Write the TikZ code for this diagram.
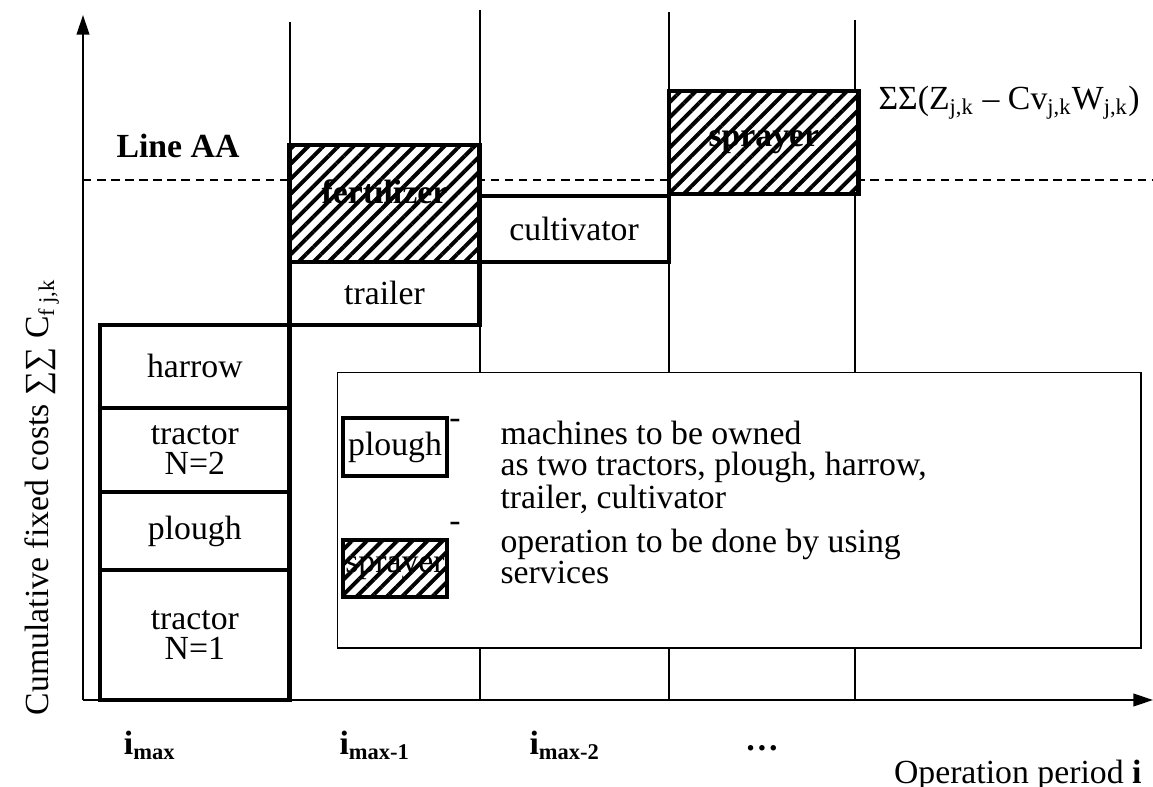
\documentclass[tikz,border=0pt]{standalone}
\usepackage{fontspec}
\setmainfont{Liberation Serif}
\usetikzlibrary{positioning,arrows.meta,patterns.meta}
\newcommand{\figfont}{\fontsize{12}{10.7}\selectfont}

\begin{document}
\begin{tikzpicture}[
  x=0.0125cm, y=-0.0125cm,
  font=\figfont,
  own/.style={draw=black,line width=1.6pt,fill=white,align=center,inner sep=0pt,outer sep=0pt,minimum width=2.37cm},
  hired/.style={draw=black,line width=1.6pt,align=center,inner sep=0pt,outer sep=0pt,minimum width=2.37cm,
    preaction={fill=white},pattern={Lines[angle=45,distance=3.8pt,line width=1.4pt]},font=\figfont\bfseries},
  period/.style={line width=0.5pt},
  axis/.style={line width=0.7pt,-{Triangle[length=7pt,width=4.5pt]}},
  level/.style={line width=0.5pt,dash pattern=on 3pt off 2pt},
  legend/.style={draw=black,line width=0.5pt,fill=white,inner sep=0pt},
  lab/.style={font=\figfont\bfseries,inner sep=0pt},
]
\useasboundingbox (0,0) rectangle (1153,787);
% operation periods
\foreach \px/\ptop in {290/22,480/10,669/12,855/20}
  \draw[period] (\px,\ptop) -- (\px,700);
% line AA
\coordinate (aaL) at (83,180);
\coordinate (aaR) at (1153,180);
\draw[level] (aaL) -- (aaR);
\node[lab] (lineAA) at (178,146) {Line AA};
% period i_max
\node[own,minimum height=1.625cm,anchor=south west] (trac1) at (100,700) {tractor\\N=1};
\node[own,minimum height=0.975cm,above=0pt of trac1] (plough) {plough};
\node[own,minimum height=1.05cm,above=0pt of plough] (trac2) {tractor\\N=2};
\node[own,minimum height=1.0375cm,above=0pt of trac2] (harrow) {harrow};
% period i_max-1
\node[own,minimum height=0.7875cm,anchor=south west] (trailer) at (harrow.north east) {trailer};
\node[hired,minimum height=1.4625cm,above=0pt of trailer] (fert) {\raisebox{8pt}{fertilizer}};
% period i_max-2
\node[own,minimum height=0.825cm,anchor=south west] (cultiv) at (trailer.north east) {cultivator};
% next period
\node[hired,minimum height=1.2875cm,anchor=south west] (sprayer) at (669,194) {sprayer};
\node[anchor=west,inner sep=0pt] (formula) at (878,103)
  {ΣΣ(Z\textsubscript{j,k} – Cv\textsubscript{j,k}W\textsubscript{j,k})};
% legend
\node[legend,anchor=north west,minimum width=10.04cm,minimum height=3.44cm] (leg) at (337,372) {};
\node[own,minimum width=1.3cm,minimum height=0.725cm,anchor=north west] (legown) at (343,418) {plough};
\node[hired,font=\figfont,minimum width=1.3cm,minimum height=0.7125cm,anchor=north west] (leghired) at (343,540) {sprayer};
\node[inner sep=0pt] (dash1) at (455,424) {-};
\node[inner sep=0pt] (dash2) at (455,527) {-};
\node[anchor=north west,align=left,inner sep=0pt] (legtxt1) at (500,421)
  {machines to be owned\\as two tractors, plough, harrow,\\trailer, cultivator};
\node[anchor=north west,align=left,inner sep=0pt] (legtxt2) at (500,529)
  {operation to be done by using\\services};
% axes
\coordinate (orig) at (83,700);
\coordinate (ytip) at (83,15);
\coordinate (xtip) at (1153,700);
\draw[axis] (orig) -- (ytip);
\draw[axis] (orig) -- (xtip);
\node[rotate=90,inner sep=0pt] (ylabel) at (42,497) {Cumulative fixed costs ∑∑ C\textsubscript{f j,k}};
\node[lab] (imax) at (150,745) {i\textsubscript{max}};
\node[lab] (imax1) at (375,745) {i\textsubscript{max-1}};
\node[lab] (imax2) at (565,745) {i\textsubscript{max-2}};
\node[lab] (idots) at (762,748) {…};
\node[anchor=east,inner sep=0pt] (xlabel) at (1142,775) {Operation period \textbf{i}};
\end{tikzpicture}
\end{document}
